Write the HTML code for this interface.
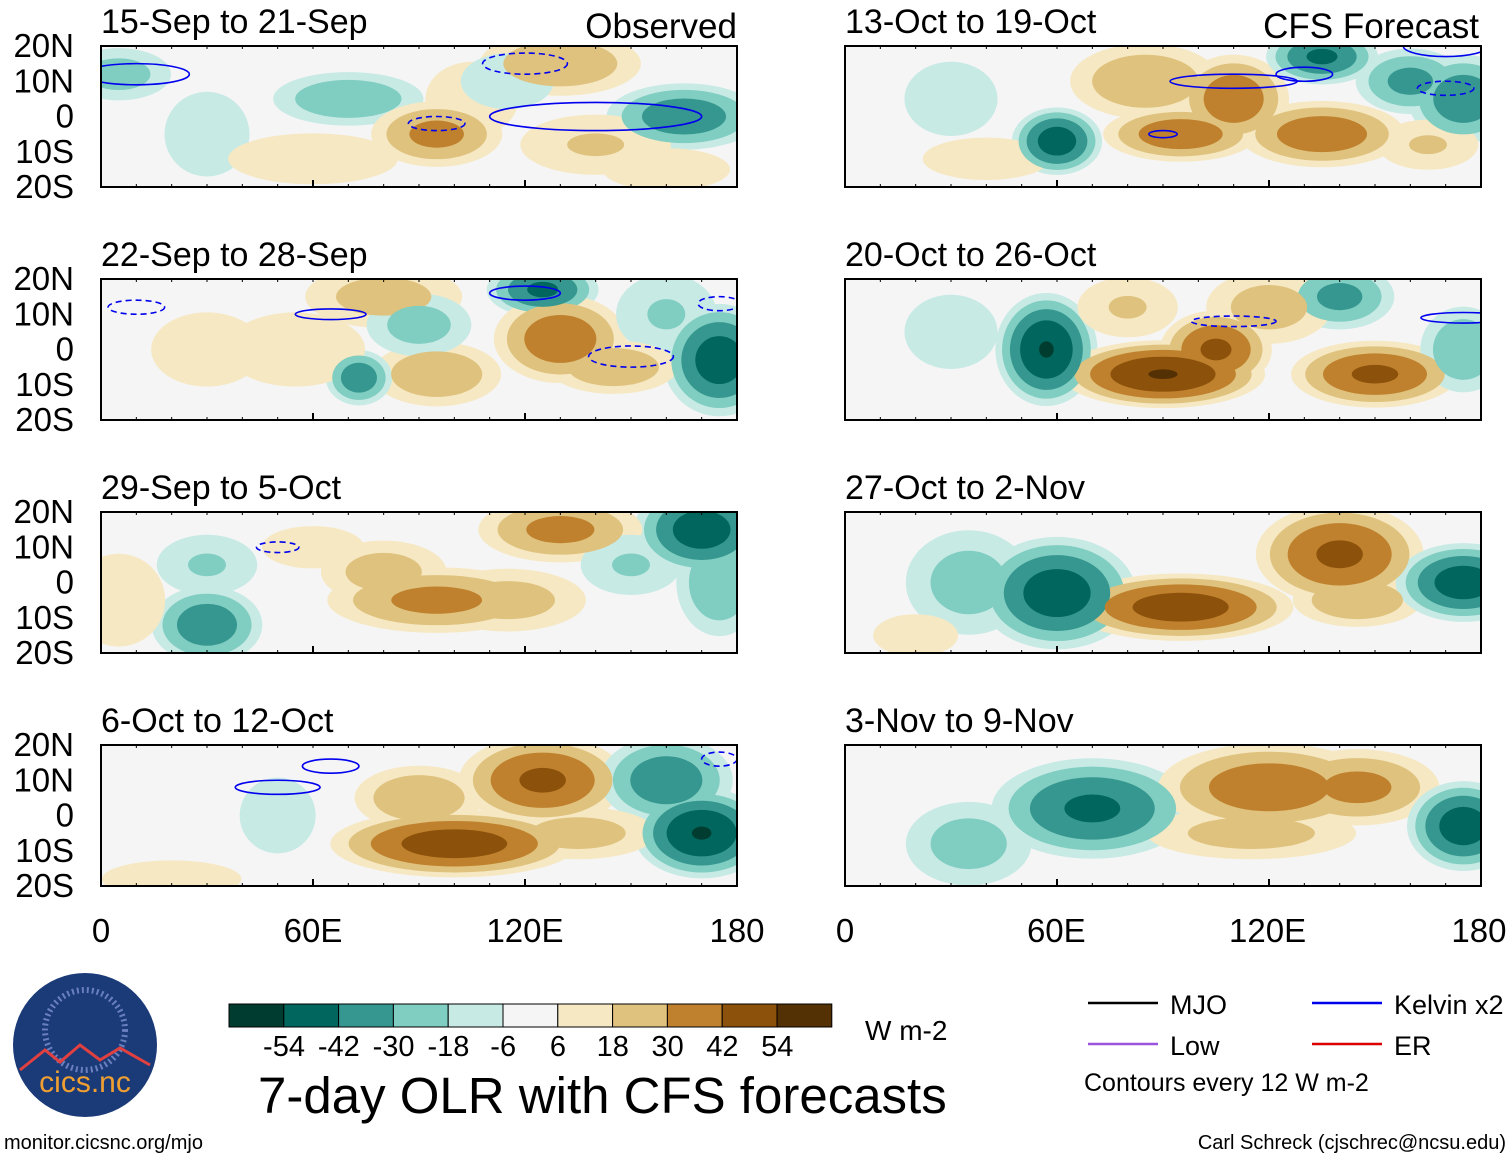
<!DOCTYPE html>
<html><head><meta charset="utf-8"><style>
body{margin:0;background:#fff;}
svg text{font-family:"Liberation Sans",Arial,sans-serif;fill:#000;}
</style></head><body>
<svg id="chart" width="1510" height="1159" xmlns="http://www.w3.org/2000/svg">
<g id="panels"></g>
<g id="overlay"></g>
</svg>
<script>
// ----- data -----
const panelTitles = ["15-Sep to 21-Sep","22-Sep to 28-Sep","29-Sep to 5-Oct","6-Oct to 12-Oct","13-Oct to 19-Oct","20-Oct to 26-Oct","27-Oct to 2-Nov","3-Nov to 9-Nov"];
const levels = [6,18,30,42,54];
const levelLabels = ["-54","-42","-30","-18","-6","6","18","30","42","54"];
const latTicks = ["20N","10N","0","10S","20S"];
const lonTicks = ["0","60E","120E","180"];
// blobs: [lon, lat, value W m-2, lon radius, lat radius]
const blobs0 = [[70,5,-30,14,5],[95,-5,35,12,6],[130,15,30,15,6],[165,0,-40,14,6],[5,12,-25,10,5],[105,5,15,10,8],[140,-8,20,15,6],[115,10,-15,10,6],[30,-5,-12,10,10],[60,-12,12,20,6],[160,-15,12,15,5]];
const blobs1 = [[80,15,25,15,6],[125,17,-45,10,5],[130,3,40,12,8],[175,-3,-50,10,10],[95,-7,30,12,6],[73,-8,-40,6,5],[90,7,-25,10,6],[30,0,15,12,8],[160,10,-20,10,8],[145,-5,30,12,5],[55,0,15,15,8]];
const blobs2 = [[170,15,-50,12,8],[130,15,35,15,6],[95,-5,35,20,6],[80,3,25,12,6],[30,-12,-40,10,7],[30,5,-20,10,6],[150,5,-20,10,6],[115,-5,25,15,6],[175,0,-30,8,10],[5,-5,15,10,10],[60,10,12,12,5]];
const blobs3 = [[100,-8,50,22,6],[125,10,45,15,8],[90,5,30,12,6],[170,-5,-55,12,8],[160,10,-40,12,8],[135,-5,25,15,5],[50,0,-10,10,10],[20,-18,15,15,4]];
const blobs4 = [[85,10,30,14,7],[60,-7,-50,8,6],[95,-5,40,14,5],[110,5,40,10,8],[135,-5,40,15,6],[135,17,-45,10,5],[160,10,-35,10,6],[175,5,-40,10,8],[30,5,-15,10,8],[165,-8,20,10,5],[40,-12,12,15,5]];
const blobs5 = [[57,0,-55,9,10],[90,-7,55,18,6],[105,0,45,10,7],[150,-7,45,15,6],[140,15,-35,10,6],[175,0,-30,8,8],[80,12,20,10,6],[120,12,25,12,7],[30,5,-15,10,8]];
const blobs6 = [[60,-3,-50,14,10],[95,-7,50,20,6],[140,8,45,15,9],[145,-5,30,12,5],[175,0,-50,12,7],[35,0,-25,12,10],[20,-15,12,10,5]];
const blobs7 = [[70,2,-45,18,9],[120,8,40,20,8],[145,8,35,15,7],[175,-3,-50,10,8],[115,-5,25,20,5],[35,-8,-25,12,8]];
const panelBlobs = [blobs0,blobs1,blobs2,blobs3,blobs4,blobs5,blobs6,blobs7];
// Kelvin contours: [lon, lat, lon radius, lat radius, dashed]
const kelvin = [[[10,12,15,3,0],[120,15,12,3,1],[95,-2,8,2,1],[140,0,30,4,0]],[[10,12,8,2,1],[65,10,10,1.5,0],[120,16,10,2,0],[150,-2,12,3,1],[175,13,6,2,1]],[[50,10,6,1.5,1]],[[50,8,12,2,0],[65,14,8,2,0],[175,16,5,2,1]],[[110,10,18,2,0],[130,12,8,2,0],[170,20,12,3,0],[170,8,8,2,1],[90,-5,4,1,0]],[[110,8,12,1.5,1],[175,9,12,1.5,0]],[],[]];
const colors = ["#003c30","#01665e","#35978f","#80cdc1","#c7eae5","#f5f5f5","#f6e8c3","#dfc27d","#bf812d","#8c510a","#543005"];

const NS="http://www.w3.org/2000/svg";
function mk(tag,attrs,parent){const e=document.createElementNS(NS,tag);for(const k in attrs)e.setAttribute(k,attrs[k]);parent.appendChild(e);return e;}
const PW=636, PH=141;
const px=[101,101,101,101,845,845,845,845];
const py=[46,279,512,745,46,279,512,745];
const root=document.getElementById('panels');
panelBlobs.forEach((blobs,i)=>{
  const x0=px[i], y0=py[i];
  const xs=lon=>x0+lon/180*PW, ys=lat=>y0+(20-lat)/40*PH;
  const g=mk('g',{},root);
  
  
  const cp=mk('clipPath',{id:'cp'+i},g);
  mk('rect',{x:x0,y:y0,width:PW,height:PH},cp);
  const inner=mk('g',{'clip-path':'url(#cp'+i+')'},g);
  mk('rect',{x:x0,y:y0,width:PW,height:PH,fill:colors[5]},inner);
  for(let k=0;k<levels.length;k++){
    blobs.forEach(b=>{
      const a=Math.abs(b[2]); if(a<=levels[k]) return;
      const f=Math.sqrt(1-levels[k]/a)*1.7;
      const ci=b[2]>0?6+k:4-k;
      const e=mk('ellipse',{cx:xs(b[0]),cy:ys(b[1]),rx:b[3]/180*PW*f,ry:b[4]/40*PH*f,fill:colors[ci]},inner);
      
      
    });
  }
  kelvin[i].forEach(c=>{
    const e=mk('ellipse',{cx:xs(c[0]),cy:ys(c[1]),rx:c[2]/180*PW,ry:c[3]/40*PH,fill:'none',stroke:'#0000ee','stroke-width':1.6,'stroke-dasharray':c[4]?'6,4':'none'},inner);
    
    
  });
  mk('rect',{x:x0,y:y0,width:PW,height:PH,fill:'none',stroke:'#000','stroke-width':2},g);
  for(let l=0;l<=180;l+=60){mk('line',{x1:xs(l),x2:xs(l),y1:y0+PH,y2:y0+PH-7,stroke:'#000','stroke-width':2},g);}
  for(let l=0;l<=180;l+=10){mk('line',{x1:xs(l),x2:xs(l),y1:y0+PH,y2:y0+PH-3,stroke:'#000'},g);mk('line',{x1:xs(l),x2:xs(l),y1:y0,y2:y0+3,stroke:'#000'},g);}
  const t=mk('text',{x:x0,y:y0-13,'font-size':34},g);t.textContent=panelTitles[i];
  
  if(i<4){latTicks.forEach((lb,j)=>{const tt=mk('text',{x:74,y:y0+j*PH/4+11,'font-size':33,'text-anchor':'end'},g);tt.textContent=lb;
    });}
});
const ov=document.getElementById('overlay');
function txt(s,x,y,size,anchor,name){const t=mk('text',{x:x,y:y,'font-size':size,'text-anchor':anchor||'start'},ov);t.textContent=s;
  return t;}
txt("Observed",737,38,35,'end','observed-label');
txt("CFS Forecast",1479,38,35,'end','forecast-label');
lonTicks.forEach((lb,j)=>{txt(lb,101+j*212,942,33,'middle','lon-tick-label');txt(lb,845+j*211.3,942,33,'middle','lon-tick-label');});
colors.forEach((c,j)=>{const r=mk('rect',{x:229+j*54.8,y:1004,width:54.8,height:23,fill:c,stroke:'#000','stroke-width':1},ov);
  });
levelLabels.forEach((lb,j)=>txt(lb,284+j*54.8,1056,29,'middle','colorbar-label'));
txt("W m-2",865,1040,28,'start','colorbar-units');
txt("7-day OLR with CFS forecasts",258,1113,51,'start','chart-title');
[["MJO","#000",1088,1003],["Low","#9955dd",1088,1044],["Kelvin x2","#0000ee",1312,1003],["ER","#dd0000",1312,1044]].forEach(l=>{
  const ln=mk('line',{x1:l[2],x2:l[2]+70,y1:l[3],y2:l[3],stroke:l[1],'stroke-width':2.5},ov);
  
  txt(l[0],l[2]+82,l[3]+11,27,'start','legend-entry');});
txt("Contours every 12 W m-2",1084,1091,25,'start','contour-note');
const lg=mk('circle',{cx:85,cy:1045,r:72,fill:'#1b3a78'},ov);
mk('circle',{cx:85,cy:1030,r:40,fill:'none',stroke:'#6a7fbf','stroke-width':6,'stroke-dasharray':'2,3'},ov);
mk('path',{d:'M20 1070 L45 1050 L60 1062 L80 1045 L100 1060 L120 1048 L150 1065',stroke:'#e04040','stroke-width':3,fill:'none'},ov);
const cn=txt("cics.nc",85,1092,30,'middle','logo-text');cn.style.fill='#f0a030';
txt("monitor.cicsnc.org/mjo",4,1149,20,'start','footer-url');
txt("Carl Schreck (cjschrec@ncsu.edu)",1506,1149,20,'end','footer-author');
</script>
</body></html>
